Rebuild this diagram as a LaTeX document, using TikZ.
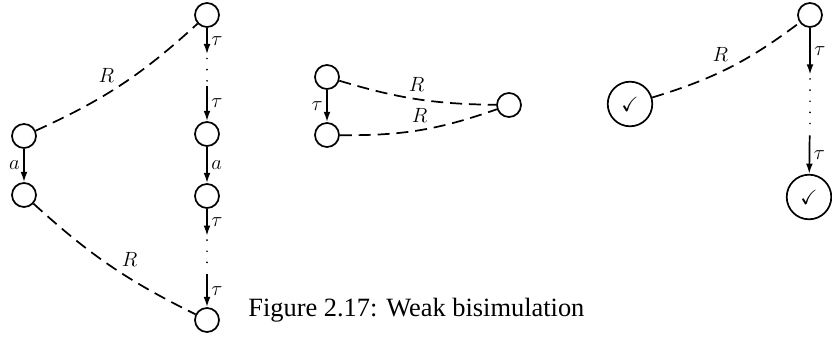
\documentclass[tikz,border=0pt]{standalone}
\usepackage{fontspec}
\usepackage{amssymb}
\usetikzlibrary{arrows.meta, positioning}
\newfontfamily\capfont{Liberation Serif}
\tikzset{
  sstate/.style={draw, line width=1pt, circle, minimum size=14pt, inner sep=0pt},
  bstate/.style={draw, line width=1pt, circle, minimum size=26pt, inner sep=0pt, font=\large},
  gapnode/.style={inner sep=0pt, minimum width=1pt, minimum height=#1},
  gapnode/.default=18pt,
  trans/.style={-{Latex[length=6pt, width=4pt]}, line width=1pt},
  rel/.style={line width=1pt, dash pattern=on 7pt off 4pt},
  dotline/.style={line width=1.1pt, line cap=round, dash pattern=on 0pt off 6.5pt,
    shorten <=2.5pt, shorten >=2.5pt},
  lbl/.style={inner sep=2pt, font=\large},
}

\begin{document}
\begin{tikzpicture}[x=0.0205cm, y=-0.0205cm]
  \useasboundingbox (0,0) rectangle (832,336);

  % left: a against tau ... tau a tau ... tau
  \node[sstate] (lt) at (24,136) {};
  \node[sstate] (lb) at (24,195) {};
  \node[sstate] (st1) at (207,15) {};
  \node[gapnode] (gap1) at (207,70) {};
  \node[sstate] (st2) at (207,134) {};
  \node[sstate] (st3) at (207,196) {};
  \node[gapnode=22pt] (gap2) at (207,255) {};
  \node[sstate] (st4) at (207,320) {};

  \draw[trans] (lt) -- node[lbl, left] {$a$} (lb);
  \draw[trans] (st1) -- node[lbl, right] {$\tau$} (gap1);
  \draw[dotline] (gap1.north) -- (gap1.south);
  \draw[trans] (gap1) -- node[lbl, right] {$\tau$} (st2);
  \draw[trans] (st2) -- node[lbl, right] {$a$} (st3);
  \draw[trans] (st3) -- node[lbl, right] {$\tau$} (gap2);
  \draw[dotline] (gap2.north) -- (gap2.south);
  \draw[trans] (gap2) -- node[lbl, right] {$\tau$} (st4);
  \draw[rel] (lt) to[bend right=9] node[lbl, pos=0.48, above left] {$R$} (st1);
  \draw[rel] (lb) to[bend right=8] node[lbl, pos=0.55, above right] {$R$} (st4);

  % middle: one tau step
  \node[sstate] (mt) at (327,77) {};
  \node[sstate] (mb) at (327,135) {};
  \node[sstate] (mr) at (509,105) {};
  \draw[trans] (mt) -- node[lbl, left] {$\tau$} (mb);
  \draw[rel] (mt) to[bend right=8] node[lbl, above=2pt] {$R$} (mr);
  \draw[rel] (mb) to[bend right=10] node[lbl, above=2pt] {$R$} (mr);

  % right: termination
  \node[bstate] (ck) at (630,104) {$\checkmark$};
  \node[sstate] (rt) at (810,15) {};
  \node[gapnode=35pt] (gap3) at (810,105) {};
  \node[bstate] (rb) at (809,197) {$\checkmark$};
  \draw[trans] (rt) -- node[lbl, right] {$\tau$} (gap3);
  \draw[dotline] (gap3.north) -- (gap3.south);
  \draw[trans] (gap3) -- node[lbl, right] {$\tau$} (rb);
  \draw[rel] (ck) to[bend right=10] node[lbl, pos=0.52, above left] {$R$} (rt);

  \node[anchor=base west, inner sep=0pt, font=\capfont\fontsize{15.4}{18}\selectfont]
    (cap) at (248,316) {Figure 2.17: Weak bisimulation};
\end{tikzpicture}
\end{document}
